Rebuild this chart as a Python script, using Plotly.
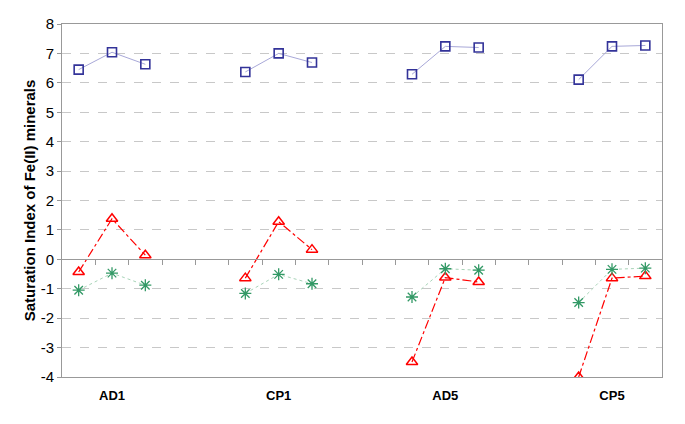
import plotly.graph_objects as go

# ---- data ----
groups = ["AD1", "CP1", "AD5", "CP5"]
mineral_a = [6.45, 7.04, 6.63, 6.37, 7.00, 6.69, 6.29, 7.24, 7.20, 6.11, 7.24, 7.27]   # blue squares
mineral_b = [-0.43, 1.38, 0.14, -0.64, 1.28, 0.33, -3.49, -0.62, -0.77, -4.00, -0.64, -0.57]  # red triangles
mineral_c = [-1.05, -0.47, -0.88, -1.16, -0.51, -0.83, -1.28, -0.32, -0.37, -1.47, -0.34, -0.30]  # green stars
points_per_group = 3
gap_slots = 2
y_ticks = list(range(-4, 9))
y_tick_labels = [str(v) for v in y_ticks]

# build category slots with empty slots between groups (lines break there)
slot_w = points_per_group + gap_slots
n_slots = len(groups) * slot_w - gap_slots


def spread(vals):
    out = [None] * n_slots
    for g in range(len(groups)):
        for k in range(points_per_group):
            out[g * slot_w + k] = vals[g * points_per_group + k]
    return out


xs = list(range(n_slots))
group_centers = [g * slot_w + 1 for g in range(len(groups))]
boundaries = [i + 0.5 for i in range(n_slots - 1)]

fig = go.Figure()
fig.add_trace(go.Scatter(
    x=xs, y=spread(mineral_a), mode="lines+markers", connectgaps=False,
    line=dict(color="#a8a8d8", width=1),
    marker=dict(symbol="square-open", size=9, color="#333399", line=dict(width=1.6, color="#333399")),
    showlegend=False, hoverinfo="skip"))
fig.add_trace(go.Scatter(
    x=xs, y=spread(mineral_b), mode="lines+markers", connectgaps=False,
    line=dict(color="#ff0000", width=1.2, dash="dashdot"),
    marker=dict(symbol="triangle-up-open", size=10, color="#ff0000", line=dict(width=1.5, color="#ff0000")),
    showlegend=False, hoverinfo="skip"))
fig.add_trace(go.Scatter(
    x=xs, y=spread(mineral_c), mode="lines+markers", connectgaps=False,
    line=dict(color="#a8d4b8", width=1, dash="dot"),
    marker=dict(symbol="asterisk-open", size=10, color="#339966", line=dict(width=1.3, color="#339966")),
    showlegend=False, hoverinfo="skip"))
# helper trace so the zero-line axis is drawn
fig.add_trace(go.Scatter(x=[0], y=[None], xaxis="x2", yaxis="y", mode="markers",
                         showlegend=False, hoverinfo="skip"))

ymin, ymax = y_ticks[0], y_ticks[-1]
fig.update_layout(
    width=685, height=424,
    margin=dict(l=54, r=31, t=16, b=55),
    plot_bgcolor="white", paper_bgcolor="white",
    font=dict(family="Liberation Sans, Arial, sans-serif", color="#000000"),
    xaxis=dict(
        range=[-0.5, n_slots - 0.5], tickvals=group_centers, ticktext=groups, automargin=False,
        tickfont=dict(size=13, family="Liberation Sans, Arial", weight="bold"),
        showgrid=False, zeroline=False, showline=True, mirror=True, linecolor="#999999", linewidth=1,
        ticks="outside", ticklen=6, tickcolor="rgba(0,0,0,0)",
    ),
    xaxis2=dict(
        overlaying="x", anchor="free", position=(0 - ymin) / (ymax - ymin), side="bottom",
        range=[-0.5, n_slots - 0.5], tickvals=boundaries, showticklabels=False, automargin=False,
        showgrid=False, zeroline=False, showline=True, linecolor="#999999", linewidth=1,
        ticks="outside", ticklen=5, tickcolor="#999999",
    ),
    yaxis=dict(
        range=[ymin, ymax], tickvals=y_ticks, ticktext=y_tick_labels, tickfont=dict(size=15),
        automargin=False,
        showgrid=True, gridcolor="#c8c8c8", griddash="dash", gridwidth=1,
        zeroline=False, showline=True, mirror=True, linecolor="#999999", linewidth=1,
        ticks="outside", ticklen=4, tickcolor="#999999",
        title=dict(text="Saturation Index of Fe(II) minerals",
                   font=dict(size=15, family="Liberation Sans, Arial", weight="bold"), standoff=1),
    ),
)

fig.write_html("out.html")
